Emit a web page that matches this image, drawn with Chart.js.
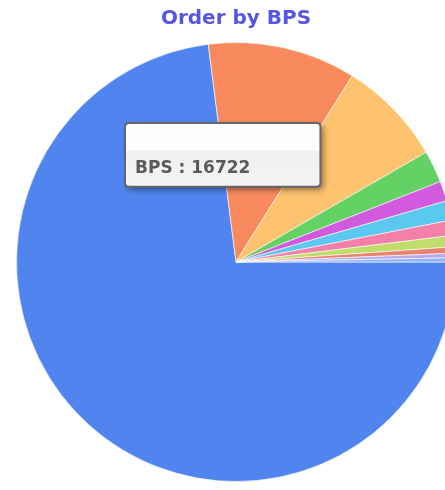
<!DOCTYPE html>
<html><head><meta charset="utf-8">
<script src="https://cdn.jsdelivr.net/npm/chart.js@4"></script>
<style>
html,body{margin:0;padding:0;overflow:hidden;background:#fff;width:445px;height:490px}
#wrap{position:absolute;left:0;top:0;width:472px;height:490px}
</style>
</head><body><div id="wrap"><canvas id="c"></canvas></div>
<script>
const titleText = 'Order by BPS';
const seriesName = 'BPS';
const categories = ['Item 1','Item 2','Item 3','Item 4','Item 5','Item 6','Item 7','Item 8','Item 9','Item 10','Item 11'];
const bpsValues = [16722, 2498, 1782, 541, 337, 331, 255, 191, 108, 76, 70];
const sliceColors = ['#5085F0','#F98A5D','#FDC36E','#63D163','#D25ADF','#5BC8F0','#F47FA8','#BEDD6A','#E8846E','#B9A9F0','#8FB4F5'];

Chart.Tooltip.positioners.fixedSpot = function(){ return {x: 129, y: 123}; };

const tooltipBg = {
  id: 'tooltipBg',
  beforeTooltipDraw(chart, args){
    const t = args.tooltip; const ctx = chart.ctx;
    const x = t.x, y = t.y, w = t.width, h = t.height;
    ctx.save();
    ctx.shadowColor = 'rgba(0,0,0,0.45)'; ctx.shadowBlur = 6; ctx.shadowOffsetX = 3; ctx.shadowOffsetY = 3;
    const g = ctx.createLinearGradient(0, y, 0, y + h);
    g.addColorStop(0, '#ffffff'); g.addColorStop(0.42, '#fcfcfc');
    g.addColorStop(0.45, '#efefef'); g.addColorStop(1, '#f5f5f5');
    ctx.fillStyle = g; ctx.beginPath(); ctx.roundRect(x, y, w, h, 4); ctx.fill();
    ctx.restore();
  }
};

const chart = new Chart(document.getElementById('c'), {
  type: 'pie',
  data: {
    labels: categories,
    datasets: [{
      label: seriesName,
      data: bpsValues,
      backgroundColor: sliceColors,
      hoverBackgroundColor: sliceColors,
      borderColor: 'rgba(255,255,255,0.6)',
      borderWidth: 1,
      hoverOffset: 0
    }]
  },
  plugins: [tooltipBg],
  options: {
    responsive: true,
    maintainAspectRatio: false,
    animation: false,
    events: [],
    rotation: 90,
    layout: { padding: { left: 16, right: 16, top: 0, bottom: 8 } },
    plugins: {
      legend: { display: false },
      title: {
        display: true, text: titleText, color: '#5656e4',
        font: { family: 'DejaVu Sans', size: 20, weight: 'bold' },
        padding: { top: 7, bottom: 11 }
      },
      tooltip: {
        enabled: true,
        position: 'fixedSpot',
        xAlign: 'left', yAlign: 'top',
        caretSize: 0, caretPadding: 0, cornerRadius: 4,
        backgroundColor: 'rgba(0,0,0,0)',
        borderColor: '#666', borderWidth: 2,
        displayColors: false,
        padding: { left: 10, right: 70, top: 9, bottom: 8 },
        titleFont: { family: 'DejaVu Sans', size: 17, weight: 'bold' },
        titleMarginBottom: 6,
        bodyFont: { family: 'DejaVu Sans', size: 17, weight: 'bold' },
        bodyColor: '#5a5a5a', titleColor: '#5a5a5a',
        callbacks: {
          title: () => ' ',
          label: (ctx) => seriesName + ' : ' + ctx.parsed
        }
      }
    }
  }
});
chart.tooltip.setActiveElements([{datasetIndex: 0, index: 0}], {x: 200, y: 150});
chart.update();
</script>
</body></html>
